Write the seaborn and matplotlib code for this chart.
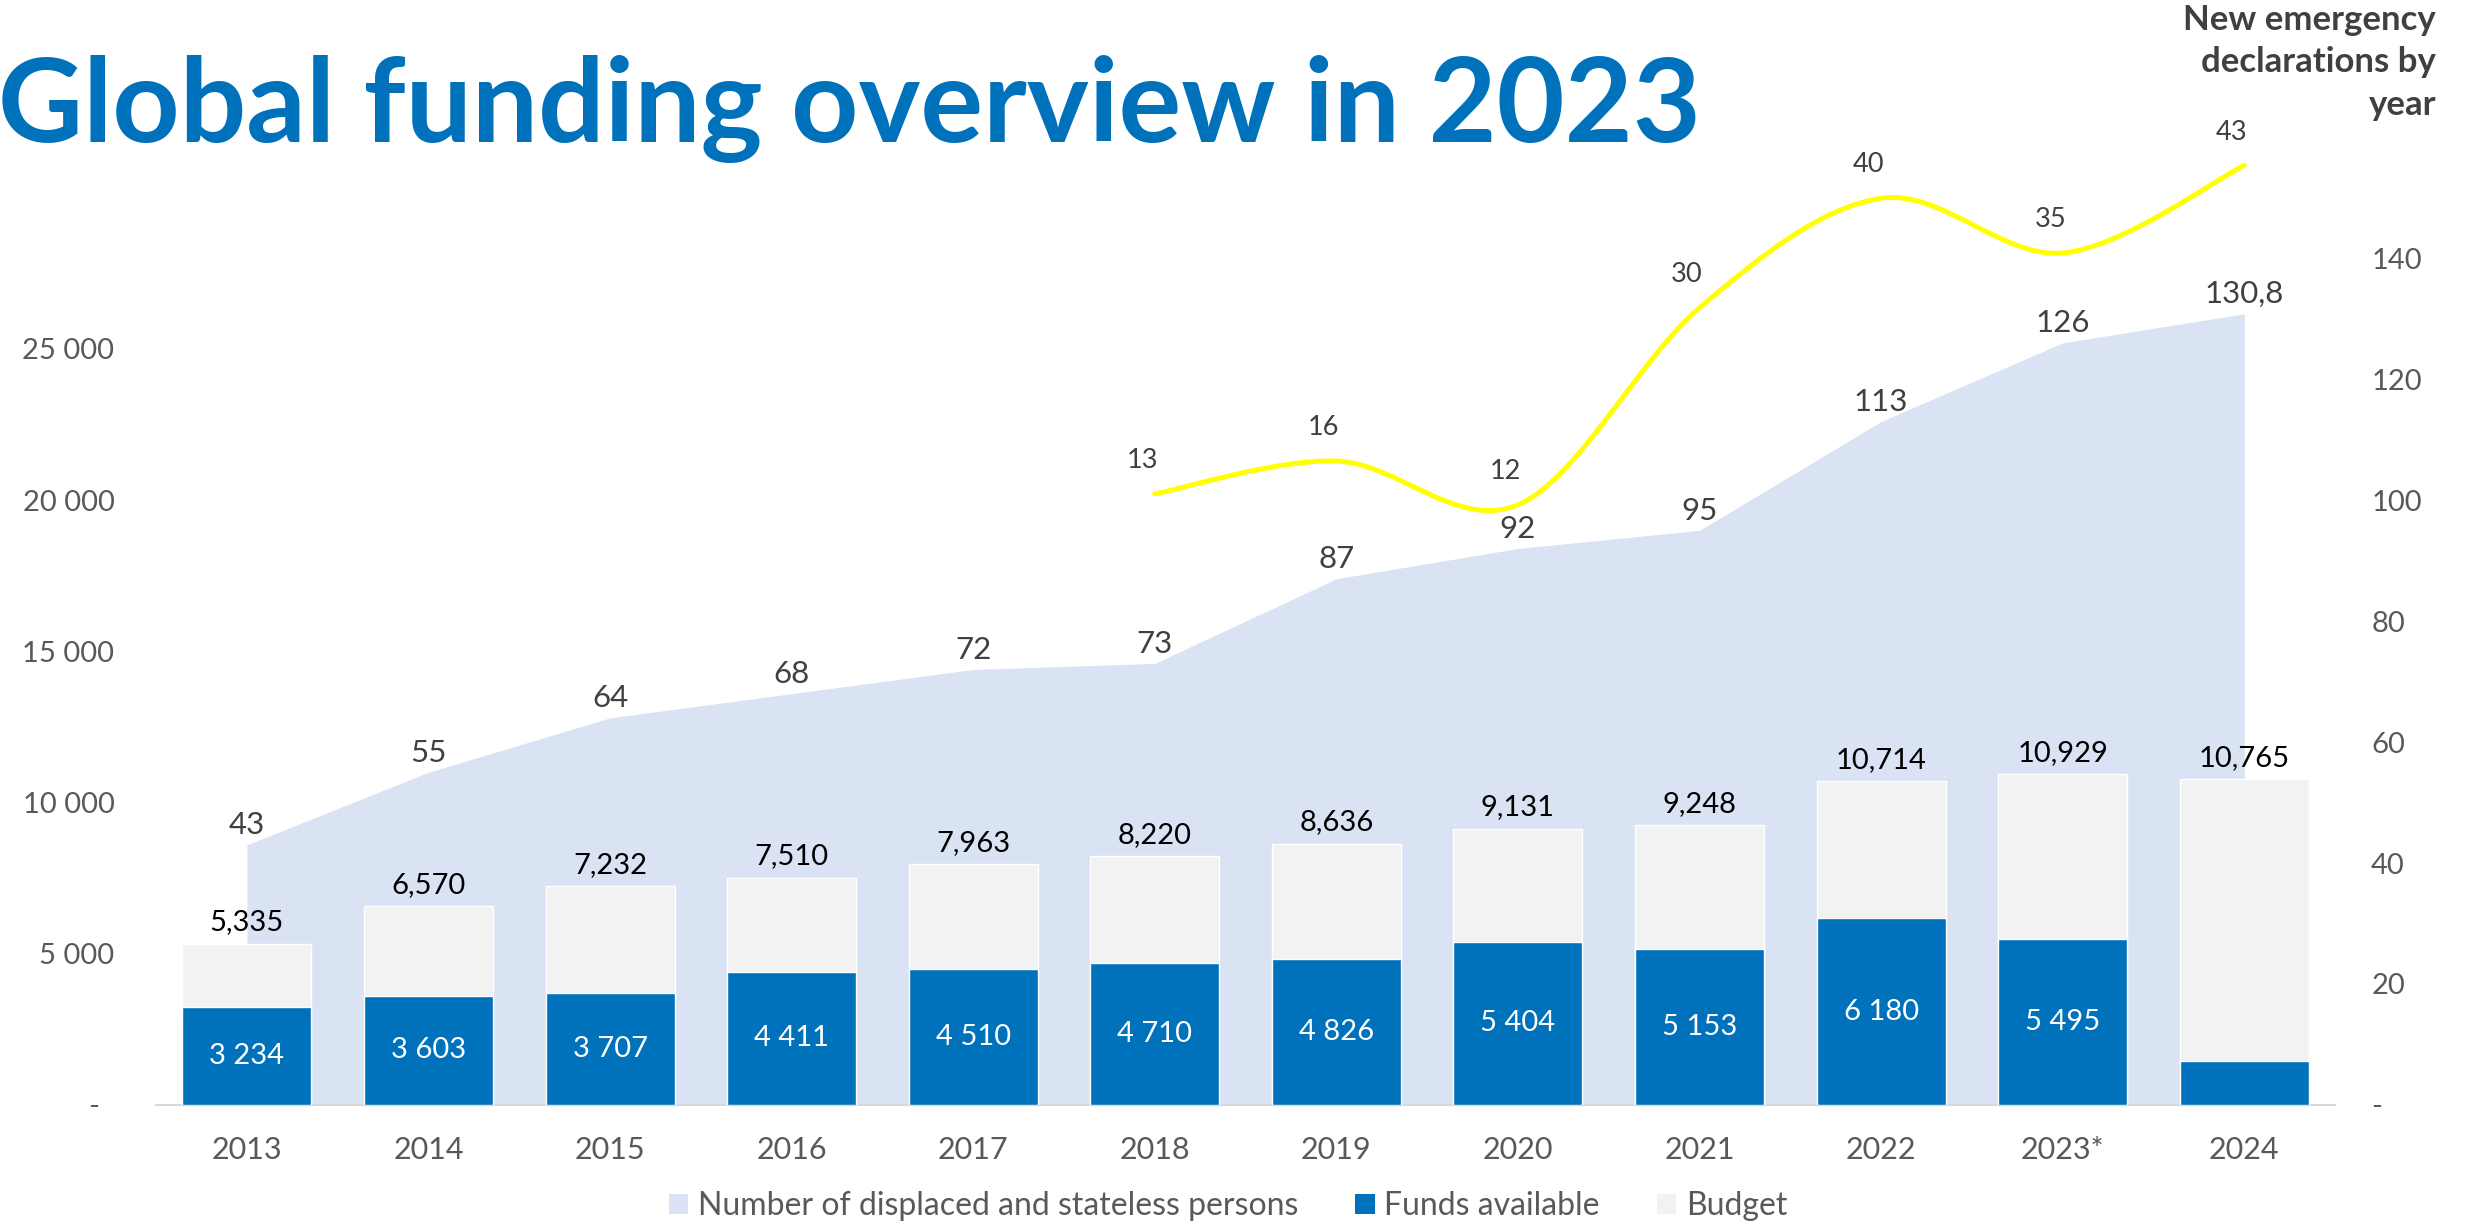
import numpy as np
import pandas as pd
import matplotlib
matplotlib.use("Agg")
import matplotlib.pyplot as plt
import seaborn as sns
from matplotlib.path import Path
from matplotlib.patches import PathPatch, Patch
from matplotlib.ticker import FuncFormatter, FixedLocator

# ---------------- data ----------------
years = ["2013", "2014", "2015", "2016", "2017", "2018", "2019", "2020",
         "2021", "2022", "2023*", "2024"]
budget = [5335, 6570, 7232, 7510, 7963, 8220, 8636, 9131, 9248, 10714, 10929, 10765]
funds = [3234, 3603, 3707, 4411, 4510, 4710, 4826, 5404, 5153, 6180, 5495, 1450]
funds_labels = ["3 234", "3 603", "3 707", "4 411", "4 510", "4 710", "4 826",
                "5 404", "5 153", "6 180", "5 495", ""]
displaced = [43, 55, 64, 68, 72, 73, 87, 92, 95, 113, 126, 130.8]
displaced_labels = ["43", "55", "64", "68", "72", "73", "87", "92", "95",
                    "113", "126", "130,8"]
emerg_years_idx = [5, 6, 7, 8, 9, 10, 11]
emergencies = [13, 16, 12, 30, 40, 35, 43]
header_lines = ["New emergency", "declarations by", "year"]

# ---------------- style ----------------
sns.set_theme(style="white")
plt.rcParams["font.family"] = ["Lato", "DejaVu Sans"]

BLUE = "#0072BC"
GREY_BAR = "#F2F2F2"
AREA = "#DAE3F3"
YELLOW = "#FFFF00"
TICK = "#595959"
DARK = "#404040"

fig = plt.figure(figsize=(24.66, 12.25), dpi=100)
ax = fig.add_axes([0.0633, 0.098, 0.8836, 0.8147])
ax2 = ax.twinx()
ax3 = ax.twinx()
ax2.set_zorder(1)
ax.set_zorder(2)
ax3.set_zorder(3)
ax.patch.set_visible(False)
ax3.patch.set_visible(False)

n = len(years)
x = np.arange(n)

# bars (left axis)
sns.barplot(x=years, y=budget, color=GREY_BAR, saturation=1, width=0.71,
            errorbar=None, ax=ax, zorder=2)
sns.barplot(x=years, y=funds, color=BLUE, saturation=1, width=0.71,
            errorbar=None, ax=ax, zorder=3)
ax.bar_label(ax.containers[0], labels=[f"{v:,}" for v in budget], padding=6,
             fontsize=21, color="black")
ax.bar_label(ax.containers[1], labels=funds_labels, label_type="center",
             fontsize=21, color="white")

LEFT_TOP = 33000
ax.set_ylim(0, LEFT_TOP)
ax.set_xlim(-0.5, n - 0.5)
ax.yaxis.set_major_locator(FixedLocator(np.arange(0, 25001, 5000)))
ax.yaxis.set_major_formatter(FuncFormatter(
    lambda v, p: "-  " if v == 0 else f"{int(v):,}".replace(",", " ")))
ax.tick_params(axis="y", labelsize=21, labelcolor=TICK, length=0, pad=30)
ax.tick_params(axis="x", labelsize=22, labelcolor=TICK, length=0, pad=22)
ax.set_xlabel("")
ax.set_ylabel("")
for s in ["top", "left", "right"]:
    ax.spines[s].set_visible(False)
ax.spines["bottom"].set_color("#D9D9D9")
ax.spines["bottom"].set_linewidth(1.5)

# area (right axis)
ax2.fill_between(x, displaced, 0, color=AREA, linewidth=0, zorder=1)
ax2.set_ylim(0, LEFT_TOP / 200)
ax2.yaxis.set_major_locator(FixedLocator(np.arange(0, 141, 20)))
ax2.yaxis.set_major_formatter(FuncFormatter(
    lambda v, p: "-" if v == 0 else f"{int(v)}"))
ax2.tick_params(axis="y", labelsize=21, labelcolor=TICK, length=0, pad=26)
for s in ax2.spines.values():
    s.set_visible(False)
ax2.grid(False)
for xi, yv, lab in zip(x, displaced, displaced_labels):
    ax2.annotate(lab, (xi, yv), xytext=(0, 4), textcoords="offset points",
                 ha="center", va="bottom", fontsize=22.5, color=DARK)

# emergencies smooth line (hidden third axis)
a_off, b_scale = 77.5, 1.81
r0, r1 = ax2.get_ylim()
ax3.set_ylim((r0 - a_off) / b_scale, (r1 - a_off) / b_scale)
ax3.set_yticks([])
for s in ax3.spines.values():
    s.set_visible(False)
ax3.grid(False)

P = np.column_stack([np.array(emerg_years_idx, float), np.array(emergencies, float)])
verts = [tuple(P[0])]
codes = [Path.MOVETO]
m = len(P)
for i in range(m - 1):
    p_prev = P[i - 1] if i > 0 else P[i]
    p_next2 = P[i + 2] if i + 2 < m else P[i + 1]
    c1 = P[i] + (P[i + 1] - p_prev) / 6.0
    c2 = P[i + 1] - (p_next2 - P[i]) / 6.0
    verts += [tuple(c1), tuple(c2), tuple(P[i + 1])]
    codes += [Path.CURVE4] * 3
ax3.add_patch(PathPatch(Path(verts, codes), fill=False, edgecolor=YELLOW,
                        lw=3.6, capstyle="round", joinstyle="round"))
for xi, yv in zip(emerg_years_idx, emergencies):
    ax3.annotate(str(yv), (xi, yv), xytext=(-9, 24), textcoords="offset points",
                 ha="center", va="center", fontsize=19.5, color=DARK)

# titles
fig.text(-0.001, 1 - 141.7 / 1225, "Global funding overview in 2023",
         fontsize=84.5, fontweight="bold", color=BLUE, ha="left", va="baseline")
for line, base in zip(header_lines, [30, 71.7, 115]):
    fig.text(2436 / 2466, 1 - base / 1225, line, fontsize=25, fontweight="bold",
             color=DARK, ha="right", va="baseline")

# legend
handles = [Patch(facecolor=AREA, edgecolor="none"),
           Patch(facecolor=BLUE, edgecolor="none"),
           Patch(facecolor=GREY_BAR, edgecolor="none")]
labels = ["Number of displaced and stateless persons", "Funds available", "Budget"]
leg = fig.legend(handles, labels, loc="center", bbox_to_anchor=(0.498, 1 - 1206 / 1225),
                 ncol=3, frameon=False, fontsize=23, handlelength=0.6,
                 handleheight=0.6, handletextpad=0.3, columnspacing=1.8)
for t in leg.get_texts():
    t.set_color(TICK)

fig.savefig("out.png", dpi=100)
